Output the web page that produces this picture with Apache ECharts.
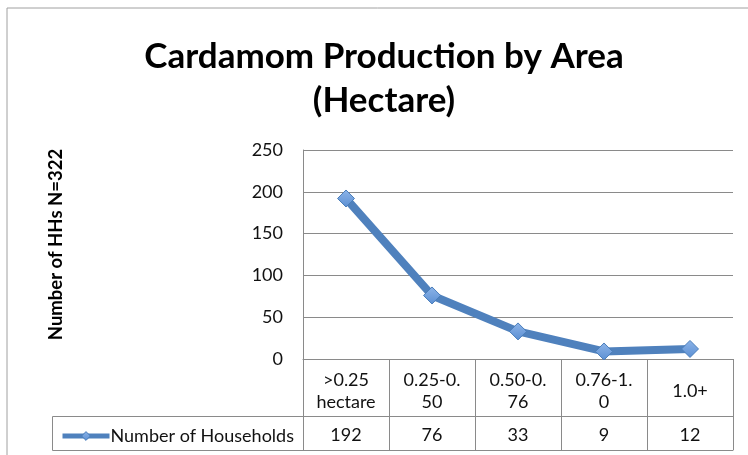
<!DOCTYPE html>
<html>
<head>
<meta charset="utf-8">
<script src="https://cdn.jsdelivr.net/npm/echarts@6/dist/echarts.min.js"></script>
<style>
html,body{margin:0;padding:0;background:#fff;}
#chart{width:748px;height:455px;}
</style>
</head>
<body>
<div id="chart"></div>
<script>
const categories = ['>0.25\nhectare', '0.25-0.\n50', '0.50-0.\n76', '0.76-1.\n0', '1.0+'];
const households = [192, 76, 33, 9, 12];
const yTicks = [0, 50, 100, 150, 200, 250];
const seriesName = 'Number of Households';
const titleText = 'Cardamom Production by Area\n(Hectare)';
const yAxisTitle = 'Number of HHs N=322';

const FONT = 'Lato, "Open Sans", sans-serif';
const GRID = {left: 303, right: 15, top: 150, bottom: 96};
const chartW = 748, chartH = 455;
const axisY = chartH - GRID.bottom;          // 359
const row1 = 57, row2 = 34;
const tableLeft = 52;
const gridLine = '#8a8a8a';
const lineColor = '#4F81BD';
const markerFill = new echarts.graphic.LinearGradient(0, 0, 0, 1, [{offset: 0, color: '#8DB4E8'}, {offset: 1, color: '#5B8FD3'}]);

const chart = echarts.init(document.getElementById('chart'));
const option = {
  animation: false,
  backgroundColor: '#fff',
  title: {
    text: titleText,
    left: 379, top: 30, textAlign: 'center',
    textStyle: {fontFamily: FONT, fontWeight: 'bold', fontSize: 35, color: '#000', lineHeight: 44}
  },
  legend: {
    data: [seriesName],
    left: 55, top: axisY + row1 + 6,
    itemWidth: 47, itemHeight: 11, itemGap: 0,
    lineStyle: {width: 5, color: lineColor},
    itemStyle: {color: markerFill, borderColor: '#4A7EBB', borderWidth: 1},
    textStyle: {fontFamily: FONT, fontSize: 18, color: '#111', padding: [0,0,0,-4]}
  },
  grid: GRID,
  xAxis: [
    {
      type: 'category', data: categories, boundaryGap: true,
      axisLine: {show: true, lineStyle: {color: gridLine, width: 1}},
      axisTick: {show: true, length: row1 + row2, lineStyle: {color: gridLine}},
      axisLabel: {fontFamily: FONT, fontSize: 18, color: '#111', lineHeight: 22, margin: 32, verticalAlign: 'middle', interval: 0}
    },
    {
      type: 'category', data: households.map(String), boundaryGap: true, position: 'bottom', offset: row1,
      axisLine: {show: true, lineStyle: {color: gridLine, width: 1}},
      axisTick: {show: false},
      axisLabel: {fontFamily: FONT, fontSize: 18, color: '#111', margin: 19, verticalAlign: 'middle', interval: 0}
    },
    {
      type: 'category', data: categories, boundaryGap: true, position: 'bottom', offset: row1 + row2,
      axisLine: {show: true, lineStyle: {color: gridLine, width: 1}},
      axisTick: {show: false}, axisLabel: {show: false}
    }
  ],
  yAxis: {
    type: 'value', min: yTicks[0], max: yTicks[yTicks.length - 1], interval: 50,
    name: yAxisTitle, nameLocation: 'middle', nameGap: 237, nameRotate: 90,
    nameTextStyle: {fontFamily: FONT, fontWeight: 'bold', fontSize: 18.5, color: '#000', padding: [0, 0, 0, 20]},
    axisLine: {show: true, lineStyle: {color: gridLine}},
    axisTick: {show: false},
    splitLine: {lineStyle: {color: gridLine, width: 1}},
    axisLabel: {fontFamily: FONT, fontSize: 18, color: '#111', margin: 20, padding: [5, 0, 0, 0]}
  },
  series: [{
    name: seriesName, type: 'line', data: households, xAxisIndex: 0,
    symbol: 'diamond', symbolSize: 17,
    lineStyle: {color: lineColor, width: 8},
    itemStyle: {color: markerFill, borderColor: '#4A7EBB', borderWidth: 1}
  }],
  graphic: [
    {type: 'polyline', shape: {points: [[7, chartH], [7, 8], [chartW, 8]]}, style: {stroke: '#a0a0a0', lineWidth: 1, fill: null}},
    {type: 'polyline', shape: {points: [[GRID.left, axisY + row1 + 0.5], [tableLeft + 0.5, axisY + row1 + 0.5], [tableLeft + 0.5, axisY + row1 + row2 + 0.5], [GRID.left, axisY + row1 + row2 + 0.5]]}, style: {stroke: gridLine, lineWidth: 1, fill: null}}
  ]
};
chart.setOption(option);
</script>
</body>
</html>
